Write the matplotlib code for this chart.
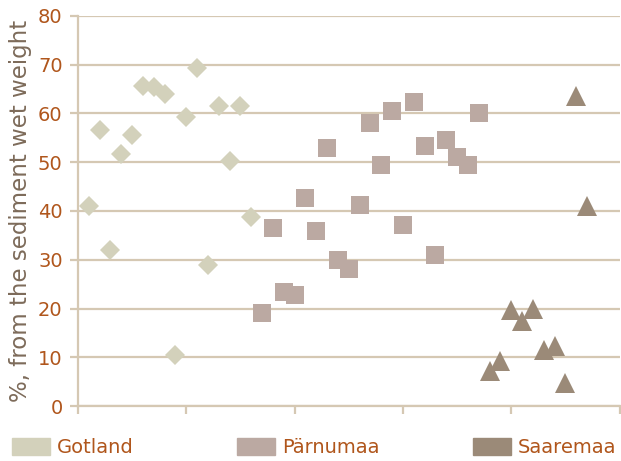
import matplotlib.pyplot as plt
from matplotlib.patches import Rectangle

plt.rcParams['font.family'] = ['DejaVu Sans']

# x positions are just sample order, one step = 0.1 of a tick
gotland_x = [0.1, 0.2, 0.3, 0.4, 0.5, 0.6, 0.7, 0.8, 0.9, 1.0, 1.1, 1.2, 1.3, 1.4, 1.5, 1.6]
gotland_y = [41.0, 56.7, 32.0, 51.7, 55.5, 65.6, 65.4, 64.0, 10.4, 59.3, 69.3, 28.9, 61.5, 50.2, 61.5, 38.7]

parnu_x = [1.7, 1.8, 1.9, 2.0, 2.1, 2.2, 2.3, 2.4, 2.5, 2.6, 2.7, 2.8, 2.9, 3.0, 3.1, 3.2, 3.3, 3.4, 3.5, 3.6, 3.7]
parnu_y = [19.0, 36.6, 23.3, 22.8, 42.6, 35.8, 52.9, 30.0, 28.1, 41.3, 58.1, 49.5, 60.6, 37.2, 62.4, 53.4, 31.0, 54.5, 51.1, 49.4, 60.2]

saare_x = [3.8, 3.9, 4.0, 4.1, 4.2, 4.3, 4.4, 4.5, 4.6, 4.7]
saare_y = [7.1, 9.3, 19.6, 17.4, 20.0, 11.5, 12.4, 4.8, 63.6, 41.1]

names = ['Gotland', 'Pärnumaa', 'Saaremaa']
colors = ['#d3d1bb', '#bba9a2', '#9b8a78']
tan = '#d5c8b3'
orange = '#b0561c'

fig = plt.figure(figsize=(6.21, 4.61), dpi=100)
ax = fig.add_axes([0.1256, 0.1193, 0.872, 0.846])

ax.set_axisbelow(True)
ax.yaxis.grid(True, color=tan, linewidth=1.6)

ax.plot(gotland_x, gotland_y, 'D', color=colors[0], markersize=10.5, markeredgewidth=0, clip_on=False)
ax.plot(parnu_x, parnu_y, 's', color=colors[1], markersize=13, markeredgewidth=0, clip_on=False)
ax.plot(saare_x, saare_y, '^', color=colors[2], markersize=14.5, markeredgewidth=0, clip_on=False)

ax.set_xlim(0, 5)
ax.set_ylim(0, 80)
ax.set_xticks(range(6))
ax.set_xticklabels([])
ax.set_yticks(range(0, 81, 10))
ax.tick_params(axis='both', colors=tan, length=6, width=1.6, labelcolor=orange, labelsize=14)
ax.tick_params(axis='y', pad=5)

for s in ['top', 'right']:
    ax.spines[s].set_visible(False)
for s in ['left', 'bottom']:
    ax.spines[s].set_color(tan)
    ax.spines[s].set_linewidth(1.6)

ax.set_ylabel('%, from the sediment wet weight', color='#7d6b5a', fontsize=16.5, labelpad=4)

# legend row along the bottom
leg_x = [12, 237, 473]
for lx, name, c in zip(leg_x, names, colors):
    fig.patches.append(Rectangle((lx / 621, 1 - 455 / 461), 38 / 621, 17 / 461,
                                 transform=fig.transFigure, color=c, figure=fig))
    fig.text((lx + 45) / 621, 1 - 447 / 461, name, color=orange, fontsize=14, va='center')

fig.savefig('out.png', dpi=100)
